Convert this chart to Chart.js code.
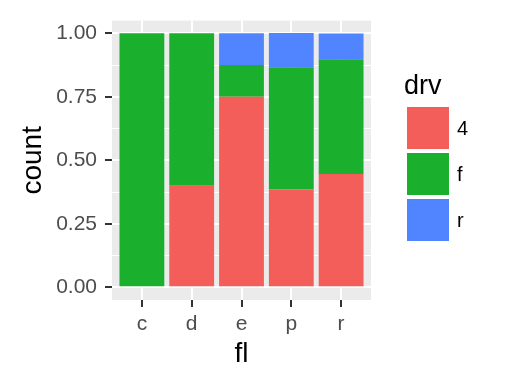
<!DOCTYPE html>
<html>
<head>
<meta charset="utf-8">
<script src="https://cdn.jsdelivr.net/npm/chart.js@4/dist/chart.umd.min.js"></script>
<style>
  html, body { margin: 0; padding: 0; background: #fff; }
  #wrap { width: 518px; height: 384px; }
</style>
</head>
<body>
<div id="wrap"><canvas id="chart" width="518" height="384"></canvas></div>
<script>
// fuel type categories and share of each drive type (position = fill)
const categories = ['c', 'd', 'e', 'p', 'r'];
const drv4 = [0, 0.40, 0.75, 0.385, 0.446];
const drvF = [1.00, 0.60, 0.125, 0.481, 0.452];
const drvR = [0, 0, 0.125, 0.135, 0.101];
const yTicks = [0, 0.125, 0.25, 0.375, 0.5, 0.625, 0.75, 0.875, 1];

const FONT = "'Liberation Sans', Arial, sans-serif";
const isMajor = v => Math.abs(v * 4 - Math.round(v * 4)) < 1e-6;
const toPoints = arr => arr.map((v, i) => ({ x: i + 1, y: v }));

// grey panel behind the bars
const panelBg = {
    id: 'panelBg',
    beforeDraw(chart) {
        const a = chart.chartArea, ctx = chart.ctx;
        ctx.save();
        ctx.fillStyle = '#EBEBEB';
        ctx.fillRect(a.left, a.top, a.right - a.left, a.bottom - a.top);
        ctx.restore();
    }
};

// axis titles and ggplot style legend
const extras = {
    id: 'extras',
    afterDraw(chart) {
        const ctx = chart.ctx, a = chart.chartArea;
        ctx.save();
        ctx.fillStyle = '#000';
        ctx.font = '28px ' + FONT;
        ctx.textAlign = 'center';
        ctx.textBaseline = 'middle';
        ctx.fillText('fl', (a.left + a.right) / 2, 354);
        ctx.translate(33, (a.top + a.bottom) / 2);
        ctx.rotate(-Math.PI / 2);
        ctx.fillText('count', 0, 0);
        ctx.restore();

        ctx.save();
        ctx.font = '27px ' + FONT;
        ctx.fillStyle = '#000';
        ctx.textAlign = 'left';
        ctx.textBaseline = 'alphabetic';
        ctx.fillText('drv', 404, 94);
        ctx.font = '20px ' + FONT;
        ctx.textBaseline = 'middle';
        chart.data.datasets.forEach((ds, i) => {
            const y = 107 + i * 46;
            ctx.fillStyle = ds.backgroundColor;
            ctx.fillRect(407, y, 42, 42);
            ctx.fillStyle = '#000';
            ctx.fillText(ds.label, 457, y + 22);
        });
        ctx.restore();
    }
};

new Chart(document.getElementById('chart'), {
    type: 'bar',
    data: {
        datasets: [
            { label: '4', data: toPoints(drv4), backgroundColor: '#F35E5A' },
            { label: 'f', data: toPoints(drvF), backgroundColor: '#1AAF2D' },
            { label: 'r', data: toPoints(drvR), backgroundColor: '#5085FF' }
        ]
    },
    options: {
        responsive: false,
        animation: false,
        layout: { padding: { left: 0, top: 15, right: 147, bottom: 0 } },
        datasets: { bar: { categoryPercentage: 1, barPercentage: 0.9, borderWidth: 0 } },
        plugins: { legend: { display: false }, tooltip: { enabled: false } },
        scales: {
            x: {
                type: 'linear',
                stacked: true,
                offset: false,
                min: 0.4,
                max: 5.6,
                afterBuildTicks: s => { s.ticks = categories.map((c, i) => ({ value: i + 1 })); },
                afterFit: s => { s.height = 84; },
                border: { display: false },
                grid: { offset: false, color: '#fff', lineWidth: 2, tickColor: '#333', tickWidth: 2, tickLength: 7 },
                ticks: {
                    autoSkip: false,
                    maxRotation: 0,
                    padding: 5,
                    color: '#4D4D4D',
                    font: { family: FONT, size: 21 },
                    callback: v => categories[Math.round(v) - 1]
                }
            },
            y: {
                stacked: true,
                min: -0.05,
                max: 1.05,
                afterBuildTicks: s => { s.ticks = yTicks.map(v => ({ value: v })); },
                afterFit: s => { s.width = 112; },
                border: { display: false },
                grid: {
                    color: '#fff',
                    lineWidth: c => isMajor(c.tick.value) ? 2 : 1,
                    tickColor: c => isMajor(c.tick.value) ? '#333' : 'rgba(0,0,0,0)',
                    tickWidth: 2,
                    tickLength: 7
                },
                ticks: {
                    autoSkip: false,
                    padding: 8,
                    color: '#4D4D4D',
                    font: { family: FONT, size: 21 },
                    callback: v => isMajor(v) ? v.toFixed(2) : ''
                }
            }
        }
    },
    plugins: [panelBg, extras]
});
</script>
</body>
</html>
